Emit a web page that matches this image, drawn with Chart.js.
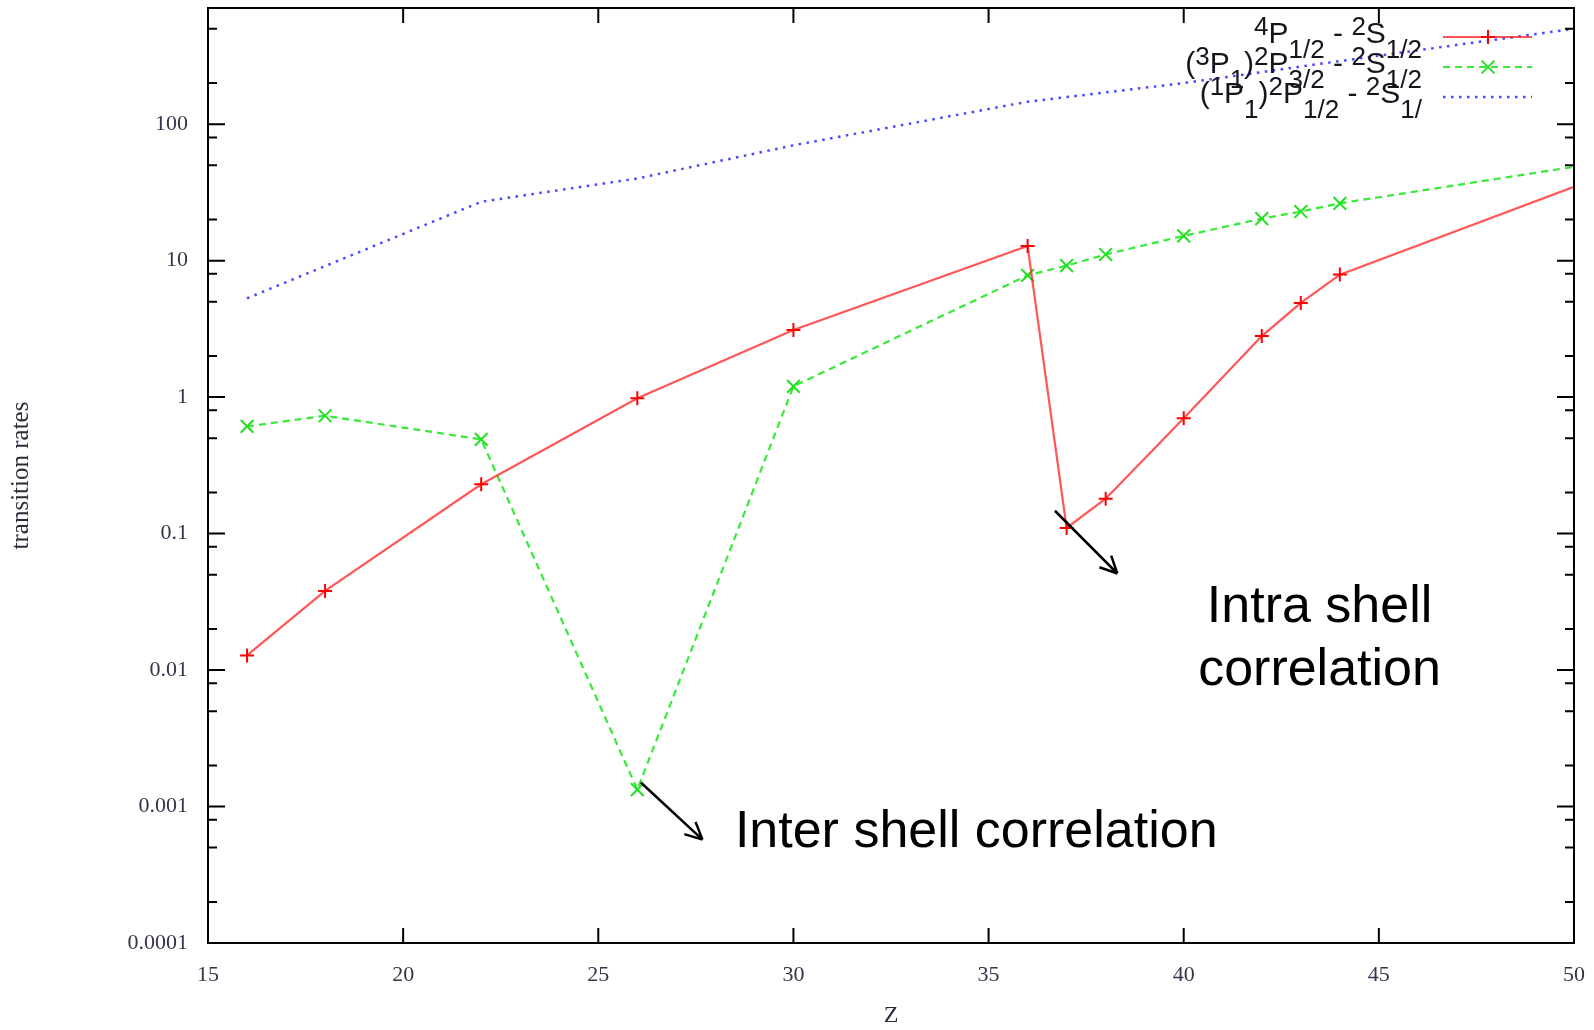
<!DOCTYPE html>
<html>
<head>
<meta charset="utf-8">
<script src="https://cdn.jsdelivr.net/npm/chart.js@4.4.1/dist/chart.umd.min.js"></script>
<style>
  html, body { margin: 0; padding: 0; background: #fff; }
  canvas { display: block; }
</style>
</head>
<body>
<canvas id="rates" width="1594" height="1030"></canvas>
<script>
// values (transition rates vs Z)
const zRed = [16, 18, 22, 26, 30, 36, 37, 38, 40, 42, 43, 44, 50];
const rateRed = [0.0128, 0.038, 0.23, 0.98, 3.1, 12.8, 0.11, 0.18, 0.7, 2.8, 4.9, 7.9, 34.7];

const zGreen = [16, 18, 22, 26, 30, 36, 37, 38, 40, 42, 43, 44, 50];
const rateGreen = [0.61, 0.73, 0.49, 0.00133, 1.2, 7.8, 9.2, 11.1, 15.2, 20.3, 22.9, 26.3, 48.7];

const zBlue = [16, 22, 26, 30, 36, 40, 44, 50];
const rateBlue = [5.3, 27, 40, 70, 146, 200, 290, 500];

const xTickValues = [15, 20, 25, 30, 35, 40, 45, 50];
const yTickValues = [0.0001, 0.001, 0.01, 0.1, 1, 10, 100];
const yTickLabels = ["0.0001", "0.001", "0.01", "0.1", "1", "10", "100"];
const yMinorFactors = [2, 5, 8];

// legend labels, as [text, kind] pieces (sup / sub for the term symbols)
const legendRed = [["4", "sup"], ["P", ""], ["1/2", "sub"], [" - ", ""], ["2", "sup"], ["S", ""], ["1/2", "sub"]];
const legendGreen = [["(", ""], ["3", "sup"], ["P", ""], ["1", "sub"], [")", ""], ["2", "sup"], ["P", ""], ["3/2", "sub"], [" - ", ""], ["2", "sup"], ["S", ""], ["1/2", "sub"]];
const legendBlue = [["(", ""], ["1", "sup"], ["P", ""], ["1", "sub"], [")", ""], ["2", "sup"], ["P", ""], ["1/2", "sub"], [" - ", ""], ["2", "sup"], ["S", ""], ["1/", "sub"]];

// annotations, in data coordinates
const notes = [
  { lines: ["Inter shell correlation"], z: 28.5, rate: 0.000508, align: "left" },
  { lines: ["Intra shell", "correlation"], z: 43.48, rate: 0.0226, align: "center" }
];
const arrows = [
  { from: [26.09, 0.0015], to: [27.67, 0.000572] },
  { from: [36.7, 0.147], to: [38.3, 0.051] }
];

const SERIF = "'Liberation Serif', 'DejaVu Serif', serif";
const SANS = "'Liberation Sans', Arial, sans-serif";
const tickColor = "#34344a";

function points(xs, ys) {
  return xs.map((x, i) => ({ x: x, y: ys[i] }));
}

// markers sitting on the right border are not drawn
function markerSize(r) {
  return function (ctx) {
    return ctx.raw && ctx.raw.x >= 50 ? 0 : r;
  };
}

const framePlugin = {
  id: "frame",
  afterDatasetsDraw(chart) {
    const { ctx, chartArea: a, scales } = chart;
    const x = scales.x, y = scales.y;
    ctx.save();
    ctx.strokeStyle = "#000";
    ctx.lineWidth = 2;
    ctx.strokeRect(a.left, a.top, a.right - a.left, a.bottom - a.top);
    ctx.beginPath();
    x.ticks.forEach(t => {
      const px = x.getPixelForValue(t.value);
      ctx.moveTo(px, a.bottom); ctx.lineTo(px, a.bottom - 15);
      ctx.moveTo(px, a.top); ctx.lineTo(px, a.top + 15);
    });
    y.ticks.forEach(t => {
      const py = y.getPixelForValue(t.value);
      ctx.moveTo(a.left, py); ctx.lineTo(a.left + 17, py);
      ctx.moveTo(a.right, py); ctx.lineTo(a.right - 17, py);
      yMinorFactors.forEach(m => {
        const v = t.value * m;
        if (v > y.max) return;
        const pm = y.getPixelForValue(v);
        ctx.moveTo(a.left, pm); ctx.lineTo(a.left + 9, pm);
        ctx.moveTo(a.right, pm); ctx.lineTo(a.right - 9, pm);
      });
    });
    ctx.stroke();
    ctx.restore();
  }
};

function drawRich(ctx, segs, right, base) {
  const font = k => (k ? 26 : 30) + "px " + SANS;
  let w = 0;
  segs.forEach(s => { ctx.font = font(s[1]); w += ctx.measureText(s[0]).width; });
  let x = right - w;
  segs.forEach(s => {
    ctx.font = font(s[1]);
    const dy = s[1] === "sup" ? -8 : s[1] === "sub" ? 15 : 0;
    ctx.fillText(s[0], x, base + dy);
    x += ctx.measureText(s[0]).width;
  });
}

const legendPlugin = {
  id: "keyBox",
  afterDraw(chart) {
    const ctx = chart.ctx;
    const rows = [legendRed, legendGreen, legendBlue];
    ctx.save();
    ctx.textAlign = "left";
    ctx.textBaseline = "alphabetic";
    chart.data.datasets.forEach((ds, i) => {
      const yLine = 37 + i * 30;
      ctx.fillStyle = "#15151f";
      drawRich(ctx, rows[i], 1422, yLine + 6);
      ctx.strokeStyle = ds.borderColor;
      ctx.lineWidth = ds.borderWidth;
      ctx.setLineDash(ds.borderDash || []);
      ctx.beginPath();
      ctx.moveTo(1443, yLine);
      ctx.lineTo(1532, yLine);
      ctx.stroke();
      ctx.setLineDash([]);
      if (ds.pointStyle) {
        ctx.strokeStyle = ds.pointBorderColor;
        ctx.lineWidth = ds.pointBorderWidth;
        Chart.helpers.drawPoint(ctx, {
          pointStyle: ds.pointStyle, radius: ds.keyRadius, rotation: 0, borderWidth: ds.pointBorderWidth
        }, 1488, yLine);
      }
    });
    ctx.restore();
  }
};

const notePlugin = {
  id: "notes",
  afterDraw(chart) {
    const { ctx, scales } = chart;
    const x = scales.x, y = scales.y;
    ctx.save();
    ctx.fillStyle = "#000";
    ctx.font = "52px " + SANS;
    ctx.textBaseline = "alphabetic";
    notes.forEach(n => {
      ctx.textAlign = n.align;
      const px = x.getPixelForValue(n.z);
      const py = y.getPixelForValue(n.rate);
      n.lines.forEach((line, i) => ctx.fillText(line, px, py + i * 63));
    });
    ctx.strokeStyle = "#000";
    ctx.lineWidth = 2.5;
    arrows.forEach(a => {
      const x1 = x.getPixelForValue(a.from[0]), y1 = y.getPixelForValue(a.from[1]);
      const x2 = x.getPixelForValue(a.to[0]), y2 = y.getPixelForValue(a.to[1]);
      const ang = Math.atan2(y2 - y1, x2 - x1);
      ctx.beginPath();
      ctx.moveTo(x1, y1);
      ctx.lineTo(x2, y2);
      [-1, 1].forEach(s => {
        ctx.moveTo(x2, y2);
        ctx.lineTo(x2 - 19 * Math.cos(ang + s * 0.45), y2 - 19 * Math.sin(ang + s * 0.45));
      });
      ctx.stroke();
    });
    ctx.restore();
  }
};

new Chart(document.getElementById("rates").getContext("2d"), {
  type: "line",
  data: {
    datasets: [
      {
        label: "4P1/2 - 2S1/2",
        data: points(zRed, rateRed),
        borderColor: "rgba(255, 30, 30, 0.75)",
        borderWidth: 2.2,
        pointStyle: "cross",
        pointRadius: markerSize(7),
        keyRadius: 7,
        pointBorderColor: "#ff0000",
        pointBorderWidth: 2,
        pointHoverRadius: 0
      },
      {
        label: "(3P1)2P3/2 - 2S1/2",
        data: points(zGreen, rateGreen),
        borderColor: "rgba(20, 230, 20, 0.85)",
        borderWidth: 2.2,
        borderDash: [7, 5],
        pointStyle: "crossRot",
        pointRadius: markerSize(9),
        keyRadius: 9,
        pointBorderColor: "#22e022",
        pointBorderWidth: 2,
        pointHoverRadius: 0
      },
      {
        label: "(1P1)2P1/2 - 2S1/",
        data: points(zBlue, rateBlue),
        borderColor: "rgba(40, 40, 255, 0.85)",
        borderWidth: 2.5,
        borderDash: [2.5, 5.5],
        pointStyle: false,
        pointRadius: 0,
        pointHoverRadius: 0
      }
    ]
  },
  options: {
    responsive: false,
    maintainAspectRatio: false,
    animation: false,
    devicePixelRatio: 1,
    layout: { autoPadding: false, padding: { top: 8, right: 20, left: 0, bottom: 0 } },
    elements: { line: { tension: 0, fill: false } },
    plugins: {
      legend: { display: false },
      tooltip: { enabled: false }
    },
    scales: {
      x: {
        type: "linear",
        min: 15,
        max: 50,
        afterBuildTicks: s => { s.ticks = xTickValues.map(v => ({ value: v })); },
        afterFit: s => { s.height = 87; s.paddingLeft = 0; s.paddingRight = 0; },
        grid: { display: false, drawTicks: false, tickLength: 0 },
        border: { display: false },
        ticks: {
          autoSkip: false,
          maxRotation: 0,
          padding: 19,
          color: tickColor,
          font: { family: SERIF, size: 22 },
          callback: v => String(v)
        },
        title: {
          display: true,
          text: "Z",
          color: "#2a2a3a",
          font: { family: SERIF, size: 24 },
          padding: { top: 0, bottom: 0 }
        }
      },
      y: {
        type: "logarithmic",
        min: 0.0001,
        max: 710,
        afterBuildTicks: s => { s.ticks = yTickValues.map(v => ({ value: v, major: true })); },
        afterFit: s => { s.width = 208; s.paddingTop = 0; s.paddingBottom = 0; },
        grid: { display: false, drawTicks: false, tickLength: 0 },
        border: { display: false },
        ticks: {
          autoSkip: false,
          padding: 20,
          color: tickColor,
          font: { family: SERIF, size: 22 },
          callback: v => yTickLabels[yTickValues.indexOf(v)]
        },
        title: {
          display: true,
          text: "transition rates",
          color: "#2a2a3a",
          font: { family: SERIF, size: 25 },
          padding: { top: 6, bottom: 0 }
        }
      }
    }
  },
  plugins: [framePlugin, legendPlugin, notePlugin]
});
</script>
</body>
</html>
